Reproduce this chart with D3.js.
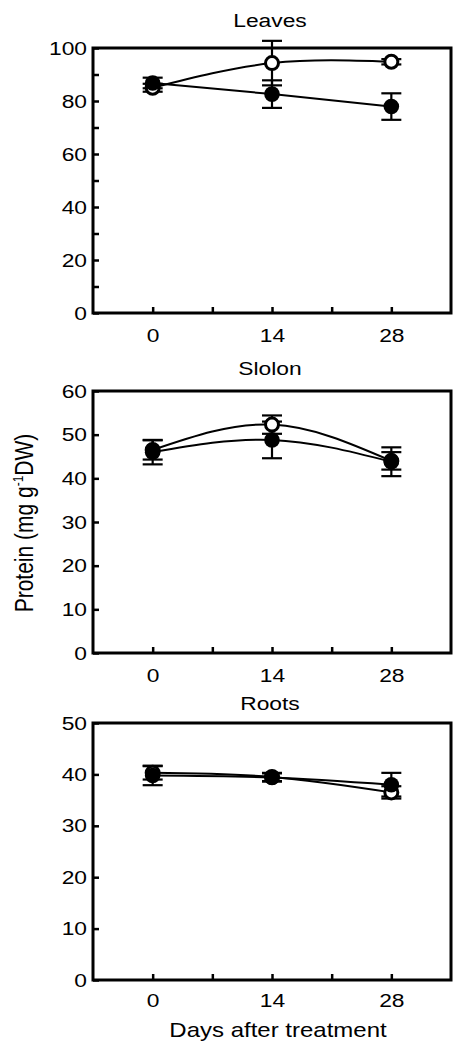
<!DOCTYPE html>
<html>
<head>
<meta charset="utf-8">
<script src="https://cdn.jsdelivr.net/npm/d3@7"></script>
<style>
  body { margin: 0; background: #fff; }
  text { font-family: "Liberation Sans", Arial, sans-serif; fill: #000; }
</style>
</head>
<body>
<div id="chart"></div>
<script>
// data
const days = [0, 14, 28];
const xTicks = [0, 7, 14, 21, 28];
const xLabels = [0, 14, 28];

const panelNames = ["Leaves", "Slolon", "Roots"];
const yMax = [100, 60, 50];
const yLabelStep = [20, 10, 10];

const leavesOpen = [85, 94.3, 94.8];
const leavesOpenErr = [1.5, 8.4, 1];
const leavesFilled = [86.8, 82.6, 77.9];
const leavesFilledErr = [2, 5.2, 5];

const stolonOpen = [46.5, 52.3, 44];
const stolonOpenErr = [2.2, 2.1, 2];
const stolonFilled = [46, 48.8, 43.8];
const stolonFilledErr = [2.8, 4.2, 3.3];

const rootsOpen = [40.3, 39.5, 36.5];
const rootsOpenErr = [1.3, 0.8, 1.2];
const rootsFilled = [39.8, 39.4, 38];
const rootsFilledErr = [1.9, 0.8, 2.3];

const openSeries = [leavesOpen, stolonOpen, rootsOpen];
const openErr = [leavesOpenErr, stolonOpenErr, rootsOpenErr];
const filledSeries = [leavesFilled, stolonFilled, rootsFilled];
const filledErr = [leavesFilledErr, stolonFilledErr, rootsFilledErr];

// layout (pixels)
const width = 453, height = 1042;
const left = 93, right = 451;
const tops = [48, 391, 723];
const bottoms = [313, 653, 980];
const k = 1.2; // the scan is a bit wider than tall, so stretch text horizontally

const svg = d3.select("#chart").append("svg")
    .attr("width", width)
    .attr("height", height);

const x = d3.scaleLinear().domain([-7, 35]).range([left, right]);

function stretch(sel) {
  sel.each(function() {
    const t = d3.select(this);
    const x0 = +t.attr("x") || 0;
    t.attr("transform", "translate(" + (x0 * (1 - k)) + ",0) scale(" + k + ",1)");
  });
}

const line = d3.line().curve(d3.curveNatural);

panelNames.forEach(function(name, p) {
  const y = d3.scaleLinear().domain([0, yMax[p]]).range([bottoms[p], tops[p]]);
  const g = svg.append("g");

  // y axis, ticks inward
  const yAxis = d3.axisLeft(y)
      .tickValues(d3.range(0, yMax[p] + 1, 10))
      .tickSizeInner(-6).tickSizeOuter(0).tickPadding(6)
      .tickFormat(function(d) { return d % yLabelStep[p] === 0 ? d : ""; });
  const ya = g.append("g")
      .attr("transform", "translate(" + left + ",0)")
      .call(yAxis);
  ya.select(".domain").remove();
  ya.selectAll("line").attr("stroke-width", 2.5);
  ya.selectAll("text").attr("font-size", 19).call(stretch);

  // x axis, ticks inward
  const xAxis = d3.axisBottom(x)
      .tickValues(xTicks)
      .tickSizeInner(-6).tickSizeOuter(0).tickPadding(p === 2 ? 14 : 16)
      .tickFormat(function(d) { return xLabels.includes(d) ? d : ""; });
  const xa = g.append("g")
      .attr("transform", "translate(0," + bottoms[p] + ")")
      .call(xAxis);
  xa.select(".domain").remove();
  xa.selectAll("line").attr("stroke-width", 2.5);
  xa.selectAll("text").attr("font-size", 19).call(stretch);

  // frame
  g.append("rect")
      .attr("x", left).attr("y", tops[p])
      .attr("width", right - left).attr("height", bottoms[p] - tops[p])
      .attr("fill", "none").attr("stroke", "#000").attr("stroke-width", 3);

  // panel title
  g.append("text")
      .attr("x", 270)
      .attr("y", [27, 375, 710][p])
      .attr("text-anchor", "middle")
      .attr("font-size", 19)
      .text(name)
      .call(stretch);

  const series = [
    {vals: openSeries[p], err: openErr[p], open: true},
    {vals: filledSeries[p], err: filledErr[p], open: false}
  ];

  series.forEach(function(s) {
    g.append("path")
        .attr("d", line(days.map(function(d, i) { return [x(d), y(s.vals[i])]; })))
        .attr("fill", "none").attr("stroke", "#000").attr("stroke-width", 2);
  });

  series.forEach(function(s) {
    const eb = g.append("g").attr("stroke", "#000").attr("stroke-width", 2.2);
    days.forEach(function(d, i) {
      const cx = x(d), hi = y(s.vals[i] + s.err[i]), lo = y(s.vals[i] - s.err[i]);
      eb.append("line").attr("x1", cx).attr("x2", cx).attr("y1", hi).attr("y2", lo);
      eb.append("line").attr("x1", cx - 10).attr("x2", cx + 10).attr("y1", hi).attr("y2", hi);
      eb.append("line").attr("x1", cx - 10).attr("x2", cx + 10).attr("y1", lo).attr("y2", lo);
    });
  });

  series.forEach(function(s) {
    g.selectAll(null)
        .data(days)
        .enter().append("circle")
        .attr("cx", function(d) { return x(d); })
        .attr("cy", function(d, i) { return y(s.vals[i]); })
        .attr("r", s.open ? 6.5 : 7.8)
        .attr("fill", s.open ? "#fff" : "#000")
        .attr("stroke", "#000")
        .attr("stroke-width", s.open ? 3 : 0);
  });
});

// axis titles
svg.append("text")
    .attr("x", 278).attr("y", 1037)
    .attr("text-anchor", "middle")
    .attr("font-size", 20)
    .text("Days after treatment")
    .call(stretch);

const yt = svg.append("text")
    .attr("transform", "translate(33,523) scale(" + k + ",1) rotate(-90)")
    .attr("text-anchor", "middle")
    .attr("font-size", 21);
yt.append("tspan").text("Protein (mg g");
yt.append("tspan").attr("font-size", 12).attr("dy", -8).text("-1");
yt.append("tspan").attr("dy", 8).text("DW)");
</script>
</body>
</html>
